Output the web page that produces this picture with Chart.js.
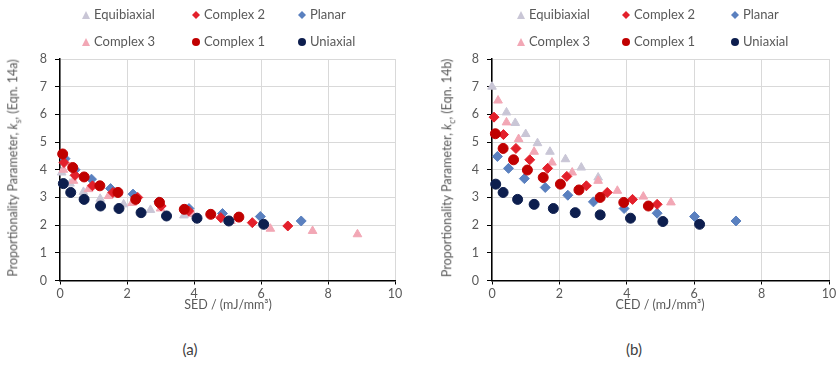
<!DOCTYPE html>
<html>
<head>
<meta charset="utf-8">
<script src="https://cdn.jsdelivr.net/npm/chart.js@4.4.1/dist/chart.umd.min.js"></script>
<style>
  body { margin: 0; background: #fff; }
  #wrap { position: relative; width: 839px; height: 365px; font-family: Lato, sans-serif; color: #595959; }
  canvas { position: absolute; top: 0; }
  .lg { position: absolute; font-size: 13px; white-space: nowrap; line-height: 14px; }
  .lg svg { vertical-align: -1px; margin-right: 3px; }
  .ytitle { position: absolute; font-size: 12.5px; white-space: nowrap; transform: translate(-50%, -50%) rotate(-90deg); }
  .xtitle { position: absolute; font-size: 12.5px; white-space: nowrap; transform: translate(-50%, -50%); }
  .cap { position: absolute; font-size: 15px; transform: translate(-50%, -50%); color: #404040; }
  sub { font-size: 70%; }
</style>
</head>
<body>
<div id="wrap">
  <canvas id="chartA" width="420" height="300" style="left:0"></canvas>
  <canvas id="chartB" width="419" height="300" style="left:420px"></canvas>

  <div class="ytitle" style="left:14px;top:168px">Proportionality Parameter, <i>k</i><sub>s</sub>, (Eqn. 14a)</div>
  <div class="ytitle" style="left:448px;top:168px">Proportionality Parameter, <i>k</i><sub>c</sub>, (Eqn. 14b)</div>
  <div class="xtitle" style="left:228px;top:304px">SED / (mJ/mm³)</div>
  <div class="xtitle" style="left:660px;top:304px">CED / (mJ/mm³)</div>
  <div class="cap" style="left:190px;top:349px">(a)</div>
  <div class="cap" style="left:634px;top:349px">(b)</div>
  <div id="legendA"></div>
  <div id="legendB"></div>
</div>

<script>
// series names and colours
const seriesNames = ['Uniaxial', 'Complex 1', 'Complex 2', 'Planar', 'Complex 3', 'Equibiaxial'];
const seriesColors = ['#0d1e4e', '#c00000', '#e3202b', '#5a80bf', '#f2a7b5', '#c9c6d6'];
const seriesShapes = ['circle', 'circle', 'rectRot', 'rectRot', 'triangle', 'triangle'];

// (a) SED vs k_s
const uniaxialA = [[0.1,3.5],[0.32,3.18],[0.72,2.93],[1.21,2.69],[1.76,2.6],[2.42,2.45],[3.18,2.33],[4.09,2.25],[5.04,2.15],[6.08,2.03]];
const complex1A = [[0.08,4.57],[0.38,4.08],[0.72,3.74],[1.19,3.42],[1.73,3.18],[2.26,2.93],[2.97,2.82],[3.71,2.57],[4.5,2.39],[5.34,2.29]];
const complex2A = [[0.12,4.26],[0.45,3.8],[0.97,3.42],[1.58,3.18],[2.32,3.0],[3.02,2.69],[3.84,2.51],[4.8,2.27],[5.74,2.09],[6.8,1.97]];
const planarA = [[0.15,4.4],[0.45,4.0],[0.94,3.66],[1.51,3.32],[2.18,3.12],[2.95,2.84],[3.85,2.6],[4.85,2.42],[5.98,2.31],[7.2,2.15]];
const complex3A = [[0.1,4.0],[0.4,3.6],[0.85,3.3],[1.45,3.05],[2.15,2.8],[3.0,2.6],[3.95,2.4],[5.1,2.15],[6.28,1.87],[7.54,1.79],[8.88,1.67]];
const equibiaxialA = [[0.05,3.9],[0.3,3.5],[0.7,3.2],[1.2,2.95],[1.9,2.75],[2.7,2.55],[3.7,2.35],[4.9,2.2]];

// (b) CED vs k_c
const uniaxialB = [[0.11,3.48],[0.33,3.18],[0.76,2.93],[1.25,2.75],[1.82,2.6],[2.47,2.45],[3.21,2.37],[4.11,2.25],[5.07,2.13],[6.16,2.03]];
const complex1B = [[0.1,5.3],[0.33,4.77],[0.64,4.36],[1.05,3.99],[1.52,3.72],[2.03,3.48],[2.58,3.27],[3.21,3.0],[3.91,2.82],[4.64,2.69]];
const complex2B = [[0.06,5.9],[0.34,5.27],[0.71,4.77],[1.12,4.36],[1.65,4.05],[2.22,3.76],[2.8,3.42],[3.42,3.18],[4.17,2.93],[4.9,2.75]];
const planarB = [[0.16,4.48],[0.49,4.05],[0.96,3.68],[1.58,3.36],[2.25,3.08],[3.01,2.84],[3.92,2.6],[4.9,2.43],[6.01,2.31],[7.24,2.15]];
const complex3B = [[0.18,6.5],[0.43,5.71],[0.79,5.11],[1.25,4.65],[1.78,4.26],[2.38,3.9],[3.15,3.6],[3.72,3.24],[4.49,3.03],[5.31,2.82]];
const equibiaxialB = [[0.0,7.0],[0.43,6.07],[0.69,5.69],[1.0,5.29],[1.35,4.96],[1.72,4.65],[2.18,4.38],[2.65,4.08],[3.15,3.72]];

// legend layout: row/col order as in the figure
const legendOrder = [['Equibiaxial', 'Complex 2', 'Planar'], ['Complex 3', 'Complex 1', 'Uniaxial']];

function makeDatasets(list) {
  return list.map((pts, i) => ({
    label: seriesNames[i],
    data: pts.map(p => ({ x: p[0], y: p[1] })),
    pointStyle: seriesShapes[i],
    backgroundColor: seriesColors[i],
    borderColor: seriesColors[i],
    borderWidth: 1,
    pointRadius: seriesShapes[i] == 'rectRot' ? 5 : 5,
    clip: false
  }));
}

function makeChart(id, datasets, yWidth, rightPad) {
  const font = { family: 'Lato', size: 12.5 };
  new Chart(document.getElementById(id), {
    type: 'scatter',
    data: { datasets: datasets },
    options: {
      responsive: false,
      animation: false,
      layout: { padding: { left: 0, right: rightPad, top: 59, bottom: 0 } },
      plugins: { legend: { display: false }, tooltip: { enabled: false } },
      scales: {
        x: {
          type: 'linear', min: 0, max: 10,
          ticks: { stepSize: 2, color: '#595959', font: font, padding: 2 },
          grid: { color: '#d9d9d9', tickColor: '#000', tickLength: 4 },
          border: { color: '#000', width: 1.5 },
          afterFit: s => { s.height = 19.5; }
        },
        y: {
          min: 0, max: 8,
          ticks: { stepSize: 1, color: '#595959', font: font, padding: 8 },
          grid: { color: '#d9d9d9', tickColor: '#000', tickLength: 5 },
          border: { color: '#000', width: 1.5 },
          afterFit: s => { s.width = yWidth; }
        }
      }
    }
  });
}

function marker(name) {
  const i = seriesNames.indexOf(name);
  const c = seriesColors[i];
  let shape;
  if (seriesShapes[i] == 'circle') shape = `<circle cx="5" cy="5" r="4" fill="${c}"/>`;
  else if (seriesShapes[i] == 'rectRot') shape = `<polygon points="5,1 9,5 5,9 1,5" fill="${c}"/>`;
  else shape = `<polygon points="5,1 9,9 1,9" fill="${c}"/>`;
  return `<svg width="10" height="10">${shape}</svg>`;
}

function buildLegend(id, left, colX, rowY) {
  let html = '';
  legendOrder.forEach((row, r) => {
    row.forEach((name, c) => {
      html += `<div class="lg" style="left:${left + colX[c]}px;top:${rowY[r]}px">${marker(name)}${name}</div>`;
    });
  });
  document.getElementById(id).innerHTML = html;
}

makeChart('chartA', makeDatasets([uniaxialA, complex1A, complex2A, planarA, complex3A, equibiaxialA]), 60, 25);
makeChart('chartB', makeDatasets([uniaxialB, complex1B, complex2B, planarB, complex3B, equibiaxialB]), 72, 10);

buildLegend('legendA', 0, [81, 191, 297], [7, 34]);
buildLegend('legendB', 420, [96, 201, 310], [7, 34]);
</script>
</body>
</html>
